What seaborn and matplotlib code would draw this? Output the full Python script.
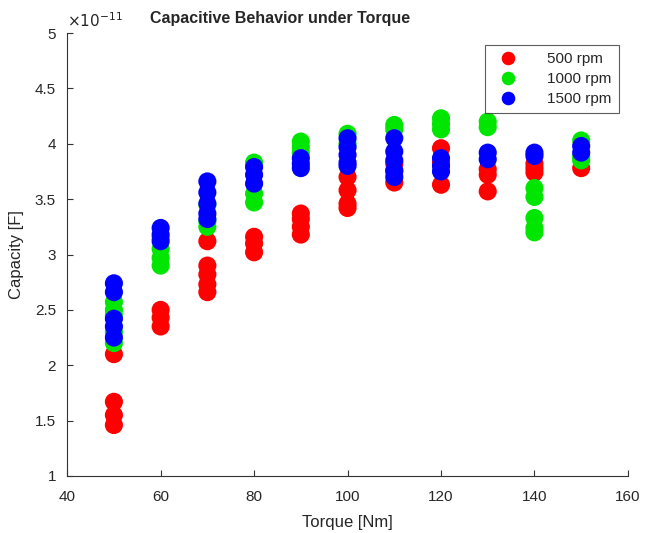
import pandas as pd
import seaborn as sns
import matplotlib.pyplot as plt
from matplotlib.ticker import FuncFormatter

# torque levels and capacity readings (x 1e-11 F) per speed
torque_500 = [50, 50, 50, 50, 60, 60, 60, 70, 70, 70, 70, 70, 80, 80, 80,
              90, 90, 90, 90, 100, 100, 100, 100, 110, 110, 110,
              120, 120, 120, 130, 130, 130, 140, 140, 140, 150]
cap_500 = [2.10, 1.67, 1.55, 1.46, 2.50, 2.43, 2.35, 3.12, 2.90, 2.82, 2.73, 2.66,
           3.16, 3.10, 3.02, 3.37, 3.32, 3.25, 3.18, 3.70, 3.58, 3.46, 3.42,
           3.82, 3.75, 3.65, 3.96, 3.83, 3.63, 3.77, 3.72, 3.57, 3.82, 3.78, 3.74, 3.78]

torque_1000 = [50, 50, 50, 50, 50, 60, 60, 60, 60, 70, 70, 70, 80, 80, 80,
               90, 90, 90, 100, 100, 110, 110, 120, 120, 120, 130, 130,
               140, 140, 140, 140, 140, 150, 150, 150]
cap_1000 = [2.57, 2.50, 2.45, 2.30, 2.20, 3.15, 3.05, 2.97, 2.90, 3.45, 3.30, 3.25,
            3.83, 3.55, 3.47, 4.02, 3.97, 3.92, 4.09, 4.00, 4.17, 4.13,
            4.23, 4.18, 4.13, 4.20, 4.15, 3.60, 3.52, 3.33, 3.24, 3.20, 4.03, 3.88, 3.85]

torque_1500 = [50, 50, 50, 50, 50, 60, 60, 60, 70, 70, 70, 70, 70, 80, 80, 80,
               90, 90, 90, 100, 100, 100, 100, 100, 110, 110, 110, 110, 110,
               120, 120, 120, 130, 130, 140, 140, 150, 150]
cap_1500 = [2.74, 2.66, 2.42, 2.35, 2.25, 3.24, 3.18, 3.12, 3.66, 3.56, 3.46, 3.37, 3.32,
            3.79, 3.72, 3.64, 3.87, 3.82, 3.78, 4.05, 3.97, 3.90, 3.83, 3.80,
            4.05, 3.93, 3.85, 3.76, 3.70, 3.87, 3.80, 3.75, 3.92, 3.86, 3.92, 3.89, 3.98, 3.92]

speeds = ["500 rpm", "1000 rpm", "1500 rpm"]
colors = ["#ff0000", "#00e600", "#0000ff"]

df = pd.concat([
    pd.DataFrame({"torque": torque_500, "capacity": cap_500, "speed": speeds[0]}),
    pd.DataFrame({"torque": torque_1000, "capacity": cap_1000, "speed": speeds[1]}),
    pd.DataFrame({"torque": torque_1500, "capacity": cap_1500, "speed": speeds[2]}),
])

sns.set_style("white")
plt.rcParams["font.family"] = ["Liberation Sans", "DejaVu Sans"]

fig = plt.figure(figsize=(6.46, 5.33), dpi=100)
ax = fig.add_axes([0.104, 0.107, 0.868, 0.831])

sns.scatterplot(data=df, x="torque", y="capacity", hue="speed",
                palette=dict(zip(speeds, colors)), s=170, linewidth=0, ax=ax)

ax.set_xlim(40, 160)
ax.set_ylim(1, 5)
ax.set_xticks(range(40, 161, 20))
ax.set_yticks([1, 1.5, 2, 2.5, 3, 3.5, 4, 4.5, 5])
ax.yaxis.set_major_formatter(FuncFormatter(lambda v, p: f"{v:g}"))
ax.tick_params(direction="in", length=4, labelsize=11, left=True, bottom=True,
               color="#333333")
ax.tick_params(axis="x", pad=10)
ax.tick_params(axis="y", pad=8)
for side in ["top", "right"]:
    ax.spines[side].set_visible(False)
for side in ["left", "bottom"]:
    ax.spines[side].set_color("#333333")
    ax.spines[side].set_linewidth(0.8)

# exponent label as in the original
ax.text(0.0, 1.008, r"$\times10^{-11}$", transform=ax.transAxes,
        fontsize=11, va="bottom", ha="left")

fig.text(280 / 646, 1 - 18 / 533, "Capacitive Behavior under Torque",
         fontsize=11.5, fontweight="bold", ha="center", va="center")
ax.set_xlabel("Torque [Nm]", fontsize=12, labelpad=8)
ax.set_ylabel("Capacity [F]", fontsize=12, labelpad=8)

leg = ax.legend(loc="upper right", bbox_to_anchor=(0.997, 0.99), fontsize=11,
                frameon=True, fancybox=False, edgecolor="#333333",
                markerscale=0.75, handletextpad=1.6, borderpad=0.45,
                labelspacing=0.4)
leg.get_frame().set_linewidth(0.8)

fig.savefig("out.png", dpi=100)
